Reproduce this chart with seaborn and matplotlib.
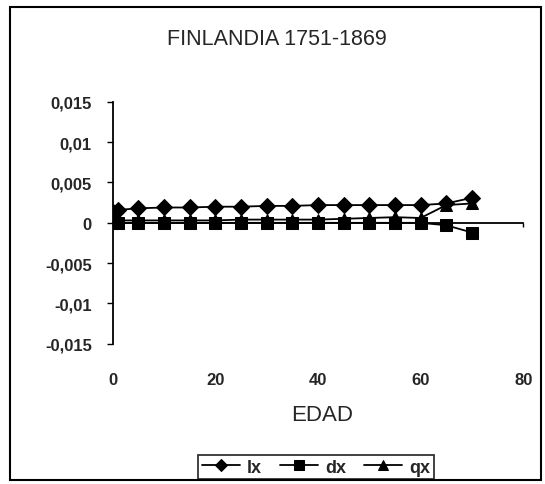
import matplotlib
matplotlib.use("Agg")
import matplotlib.pyplot as plt
from matplotlib.patches import Rectangle
from matplotlib.ticker import FuncFormatter
import seaborn as sns
import pandas as pd

# ---- data ----
ages = [0, 1, 5, 10, 15, 20, 25, 30, 35, 40, 45, 50, 55, 60, 65, 70]
lx = [0.0013, 0.0016, 0.0018, 0.0019, 0.0019, 0.0020, 0.0020, 0.0021,
      0.0021, 0.0022, 0.0022, 0.0022, 0.0022, 0.0022, 0.0024, 0.0031]
dx = [0.0000, 0.0000, 0.0000, 0.0000, 0.0000, 0.0000, 0.0000, 0.0000,
      0.0000, 0.0000, 0.0000, 0.0000, 0.0000, 0.0000, -0.0003, -0.0012]
qx = [0.0002, 0.0003, 0.0003, 0.0003, 0.0003, 0.0003, 0.0004, 0.0004,
      0.0004, 0.0004, 0.0005, 0.0006, 0.0007, 0.0006, 0.0022, 0.0024]
series_names = ["lx", "dx", "qx"]
title = "FINLANDIA 1751-1869"
xlabel = "EDAD"
yticks = [-0.015, -0.01, -0.005, 0, 0.005, 0.01, 0.015]
xticks = [0, 20, 40, 60, 80]

df = pd.DataFrame({"EDAD": ages * 3,
                   "valor": lx + dx + qx,
                   "serie": [n for n in series_names for _ in ages]})

sns.set_theme(style="white")
plt.rcParams["font.family"] = ["Liberation Sans", "DejaVu Sans"]

fig = plt.figure(figsize=(5.45, 4.85), dpi=100)
ax = fig.add_axes([0.207, 0.289, 0.753, 0.499])

sns.lineplot(data=df, x="EDAD", y="valor", hue="serie", style="serie",
             hue_order=series_names, style_order=series_names,
             palette=["black"] * 3, markers={"lx": "D", "dx": "s", "qx": "^"},
             dashes=False, markersize=8.5, linewidth=1.3,
             markeredgecolor="black", ax=ax, legend=True)

ax.set_xlim(0, 80)
ax.set_ylim(-0.015, 0.015)
ax.set_yticks(yticks)
ax.yaxis.set_major_formatter(FuncFormatter(
    lambda v, p: "0" if abs(v) < 1e-12 else ("%g" % v).replace(".", ",")))

for s in ["top", "right"]:
    ax.spines[s].set_visible(False)
ax.spines["left"].set_color("black")
ax.spines["left"].set_linewidth(1.3)
ax.spines["bottom"].set_position(("data", 0))
ax.spines["bottom"].set_color("black")
ax.spines["bottom"].set_linewidth(1.3)

ax.set_xticks(xticks)
ax.tick_params(axis="x", direction="out", length=3, width=1, color="black",
               labelbottom=False, bottom=True)
ax.tick_params(axis="y", direction="out", length=4, width=1, color="black",
               left=True, labelsize=12, pad=11)
for lab in ax.get_yticklabels():
    lab.set_fontweight("bold")

sec = ax.secondary_xaxis("bottom")
sec.set_xticks(xticks)
sec.spines["bottom"].set_visible(False)
sec.tick_params(axis="x", length=0, labelsize=12, pad=20)
for lab in sec.get_xticklabels():
    lab.set_fontweight("bold")

ax.set_xlabel("")
ax.set_ylabel("")
fig.text(0.591, 0.144, xlabel, ha="center", va="center", fontsize=16)
fig.text(0.508, 0.918, title, ha="center", va="center", fontsize=15.5)

handles, labels = ax.get_legend_handles_labels()
for h in handles:
    h.set_markersize(6.5)
ax.get_legend().remove()
leg = fig.legend(handles, labels, loc="center", bbox_to_anchor=(0.58, 0.035),
                 ncol=3, frameon=True, fancybox=False, edgecolor="black",
                 handlelength=2.1, handletextpad=0.4, columnspacing=1.0,
                 borderpad=0.2, prop={"weight": "bold", "size": 13})
leg.get_frame().set_linewidth(1.3)

fig.patches.append(Rectangle((0.018, 0.008), 0.975, 0.975, transform=fig.transFigure,
                             fill=False, edgecolor="black", linewidth=1.5))

fig.savefig("out.png", dpi=100)
